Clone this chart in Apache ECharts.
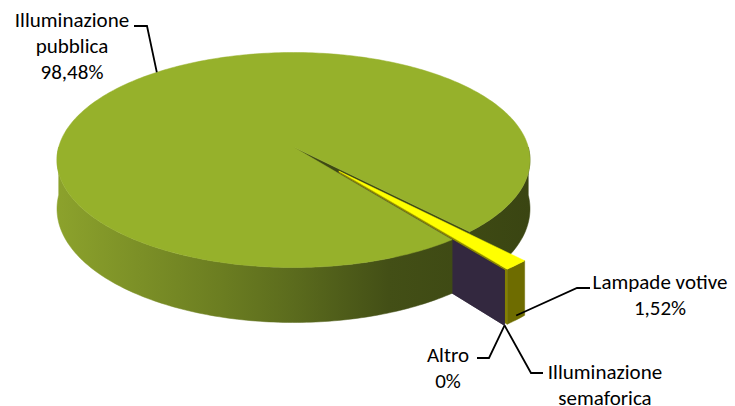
<!DOCTYPE html>
<html><head><meta charset="utf-8">
<script src="https://cdn.jsdelivr.net/npm/echarts/dist/echarts.min.js"></script>
<style>html,body{margin:0;padding:0;background:#fff}#c{width:735px;height:406px}</style>
</head><body><div id="c"></div>
<script>
// ---- data ----
const categories = ['Illuminazione pubblica', 'Lampade votive', 'Illuminazione semaforica', 'Altro'];
const values = [98.48, 1.52, 0, 0];
const percentLabels = ['98,48%', '1,52%', '0%', '0%'];

// ---- styles / layout ----
const topColors = ['#96B12B', '#FFFF00', '#33283F', '#33283F'];
const wallColors = ['#5A6A1C', '#6E6C00', '#33283F', '#33283F'];
const faceColors = ['#3E4A14', '#8A8700', '#33283F', '#33283F'];
const labelLines = [
  ['Illuminazione', 'pubblica'],
  ['Lampade votive'],
  ['Illuminazione', 'semaforica'],
  ['Altro']
];
const labelLayout = [
  {cx: 72, y0: 20, elbow: [147, 26], end: [134, 26], startAngle: 230.5, startR: 1.0},
  {cx: 660, y0: 282, elbow: [577, 288], end: [590, 288]},
  {cx: 605, y0: 372, elbow: [531, 373], end: [543, 373]},
  {cx: 448, y0: 355, elbow: [489, 358], end: [477, 358]}
];
const FONT = '21px Carlito, Calibri, Lato, sans-serif';
const LINE_H = 26;

// projection parameters
const CX = 293.5, CY = 160, RX = 236.5, RY = 107.5, A = -0.12, K = Math.sqrt(1 - A * A);
const START = 52.3, EXPLODE = 0.29;
const TOTAL = values.reduce((s, v) => s + v, 0);
function H(v) { return 48 + 7 * Math.max(0, Math.min(1.1, v)); }
function proj(u, v, depth) {
  const den = 1 + A * v;
  return [CX + RX * u * K / den, CY + RY * (v + A) / den + depth * H(v)];
}
const rad = d => d * Math.PI / 180;
function pt(th, r, depth, off) {
  const u = off[0] + r * Math.cos(rad(th)), v = off[1] + r * Math.sin(rad(th));
  return proj(u, v, depth);
}
function arc(a, b, depth, off) {
  const n = Math.max(2, Math.ceil(Math.abs(b - a) / 1));
  const pts = [];
  for (let k = 0; k <= n; k++) pts.push(pt(a + (b - a) * k / n, 1, depth, off));
  return pts;
}
const sideGradient = {
  type: 'linear', x: 57, y: 0, x2: 531, y2: 0, global: true,
  colorStops: [
    {offset: 0, color: '#8CA22C'},
    {offset: 0.35, color: '#6B7D21'},
    {offset: 0.5, color: '#5B6B1D'},
    {offset: 0.7, color: '#434F16'},
    {offset: 1, color: '#3A4512'}
  ]
};

const cumBefore = [];
values.reduce((s, v, i) => { cumBefore[i] = s; return s + v; }, 0);
const seriesData = values.map((v, i) => ({name: categories[i], value: [v, cumBefore[i]]}));

function renderItem(params, api) {
  const i = params.dataIndex;
  const val = api.value(0), before = api.value(1);
  const t0 = START + before / TOTAL * 360, t1 = START + (before + val) / TOTAL * 360;
  const tm = (t0 + t1) / 2;
  const exploded = i > 0;
  const off = exploded ? [EXPLODE * Math.cos(rad(tm)), EXPLODE * Math.sin(rad(tm))] : [0, 0];
  const ch = [];
  const poly = (points, fill, z2) => ch.push({type: 'polygon', z2, shape: {points}, style: {fill, stroke: fill, lineWidth: 0.5}});

  // radial end face (facing viewer)
  if (Math.cos(rad(t1)) > 0) {
    poly([pt(t1, 0, 0, off), pt(t1, 1, 0, off), pt(t1, 1, 1, off), pt(t1, 0, 1, off)],
      faceColors[i], exploded ? 4 + i * 0.1 : 1);
  }
  if (Math.cos(rad(t0)) < 0 && val > 0) {
    poly([pt(t0, 0, 0, off), pt(t0, 1, 0, off), pt(t0, 1, 1, off), pt(t0, 0, 1, off)],
      faceColors[i], exploded ? 4 : 1);
  }
  // outer side walls on the front half
  if (val > 0) {
    for (let k = 0; k < 3; k++) {
      const a = Math.max(t0, 360 * k), b = Math.min(t1, 360 * k + 180);
      if (b > a) {
        const top = arc(a, b, 0, off), bot = arc(b, a, 1, off);
        const z2 = exploded ? 8 : (Math.abs(b - t1) < 1e-6 ? 2 : 6);
        poly(top.concat(bot), i === 0 ? sideGradient : wallColors[i], z2);
      }
    }
    // top face
    poly([pt(0, 0, 0, off)].concat(arc(t0, t1, 0, off)), topColors[i], exploded ? 9 : 7);
  }

  // leader line + label
  const L = labelLayout[i];
  let s;
  if (i === 0) s = pt(L.startAngle, L.startR, 0, off);
  else if (i === 1) s = pt(tm, 1, 0.92, off);
  else s = pt(t1, 1, 1, off);
  ch.push({type: 'polyline', z2: 20, shape: {points: [s, L.elbow, L.end]},
    style: {stroke: '#000', lineWidth: 1.8, fill: null}});
  const lines = labelLines[i].concat([percentLabels[i]]);
  lines.forEach((t, j) => ch.push({type: 'text', z2: 21,
    style: {text: t, x: L.cx, y: L.y0 + j * LINE_H, textAlign: 'center', textVerticalAlign: 'middle',
      font: FONT, fill: '#000'}}));
  return {type: 'group', children: ch};
}

const chart = echarts.init(document.getElementById('c'), null, {renderer: 'svg'});
chart.setOption({
  animation: false,
  backgroundColor: '#fff',
  series: [{
    type: 'custom',
    coordinateSystem: 'none',
    renderItem,
    data: seriesData
  }]
});
</script></body></html>
